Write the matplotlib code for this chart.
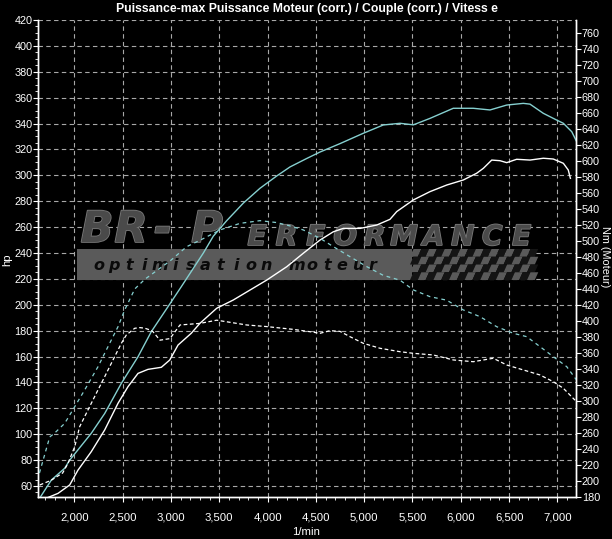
import matplotlib
matplotlib.use("Agg")
import matplotlib.pyplot as plt
import matplotlib.patheffects as pe
from matplotlib.ticker import MultipleLocator, FuncFormatter
from matplotlib.patches import Rectangle, Polygon
from matplotlib.transforms import Affine2D

# ---------------- data ----------------
title = "Puissance-max Puissance Moteur (corr.) / Couple (corr.) / Vitess e"
x_label = "1/min"
left_label = "hp"
right_label = "Nm (Moteur)"
logo_big = "BR-P"
logo_small = "ERFORMANCE"
logo_band = "optimisation moteur"

# run 1 (cyan): power (hp) and torque (Nm)
rpm_p1 = [1643, 1763, 1901, 1953, 2176, 2315, 2487, 2660, 2797, 2970, 3108, 3336, 3439,
          3578, 3749, 3922, 4095, 4233, 4405, 4543, 4750, 4991, 5198, 5371, 5509, 5681,
          5922, 6129, 6302, 6475, 6647, 6716, 6854, 6992, 7061, 7148, 7199]
hp_p1 = [50.7, 64.6, 73.7, 80, 100.7, 116, 139.3, 159.9, 179.2, 198.5, 214, 240, 253,
         265, 278.5, 290, 299.5, 306.5, 313, 318, 324.5, 332.5, 338.9, 340.2, 339, 344,
         351.8, 351.8, 350.5, 354.3, 355.6, 355, 347.9, 342.7, 340.2, 333.7, 326]

rpm_t1 = [1640, 1746, 1798, 1901, 2005, 2108, 2246, 2349, 2453, 2522, 2626, 2729, 2797,
          2991, 3164, 3336, 3508, 3715, 3922, 4095, 4233, 4370, 4543, 4681, 4853, 5026,
          5198, 5371, 5509, 5681, 5854, 6026, 6199, 6371, 6544, 6682, 6820, 6957, 7096, 7199]
nm_t1 = [210, 255, 260, 272, 292.9, 313.8, 342.9, 367.9, 392.9, 413.8, 440, 452, 458,
         475, 492.9, 503, 513.8, 522, 525.4, 523, 518.8, 513.8, 503.4, 492.9, 480.4, 468,
         457, 451, 438.8, 430.4, 426, 413.8, 405.4, 392.9, 384.6, 380.4, 367.9, 355.4, 342.9, 326]

# run 2 (white): power (hp) and torque (Nm)
rpm_p2 = [1659, 1832, 1953, 2039, 2176, 2315, 2453, 2556, 2660, 2763, 2901, 2988, 3074,
          3211, 3301, 3474, 3646, 3819, 3992, 4199, 4370, 4543, 4681, 4784, 4957, 5130,
          5267, 5337, 5509, 5681, 5854, 6026, 6164, 6233, 6320, 6406, 6475, 6578, 6716,
          6854, 6957, 7061, 7112, 7134]
hp_p2 = [49, 54.3, 60.8, 72.3, 86.5, 103.3, 123.9, 136.7, 147, 150.1, 151.7, 157.3, 168.9,
         178, 185.7, 197.3, 203.7, 211.4, 219.1, 229.4, 239.8, 250, 256.4, 259, 259, 261.6,
         266, 272, 281, 287.4, 292.5, 296.4, 301.6, 305.4, 311.8, 311.3, 309.8, 312.4, 311.8,
         313.2, 312.6, 309.3, 304.1, 297.7]

rpm_t2 = [1643, 1763, 1880, 1935, 2005, 2056, 2142, 2228, 2315, 2401, 2487, 2539, 2626,
          2680, 2729, 2784, 2815, 2887, 2991, 3094, 3301, 3474, 3578, 3785, 3992, 4267,
          4440, 4543, 4646, 4750, 4853, 4991, 5164, 5371, 5509, 5716, 5922, 6129, 6336,
          6475, 6647, 6820, 6957, 7061, 7182]
nm_t2 = [195, 201, 210, 222, 242.9, 267.9, 288.8, 309.6, 330.4, 351.3, 372, 382.5, 390.9,
         391.7, 391, 388.8, 386.6, 376, 378, 395, 397, 401, 399, 395, 393, 389.5,
         386.6, 384.6, 387.9, 387, 380.4, 372.1, 365.9, 361.6, 359.6, 357.5, 351.3, 349.1, 353.4,
         345, 338.8, 332.5, 324.1, 315.9, 301]

# ---------------- style ----------------
W, H = 612, 539
CYAN = "#86d0d0"
GRID = "#a8a8a8"
FONT = ["Liberation Sans", "DejaVu Sans"]
plt.rcParams["font.family"] = FONT

fig = plt.figure(figsize=(W / 100, H / 100), dpi=100, facecolor="black")
L, R, T, B = 38.2, 576.0, 20.0, 497.0
ax = fig.add_axes([L / W, 1 - B / H, (R - L) / W, (B - T) / H])
ax.set_facecolor("black")
ax2 = ax.twinx()

ax.set_xlim(1627, 7192)
ax.set_ylim(51.5, 420)
ax2.set_ylim(180, 776.2)

# grid / ticks
ax.set_axisbelow(True)
ax.xaxis.set_major_locator(MultipleLocator(500))
ax.xaxis.set_minor_locator(MultipleLocator(100))
ax.yaxis.set_major_locator(MultipleLocator(20))
ax.yaxis.set_minor_locator(MultipleLocator(5))
ax2.yaxis.set_major_locator(MultipleLocator(20))
ax.grid(True, which="major", color=GRID, linestyle=(0, (4, 3)), linewidth=0.8)
ax.xaxis.set_major_formatter(FuncFormatter(lambda v, p: f"{int(round(v)):,}"))

for a in (ax, ax2):
    a.spines["top"].set_visible(False)
    for s in ("left", "right", "bottom"):
        a.spines[s].set_color("white")
        a.spines[s].set_linewidth(1.0)
    a.tick_params(colors="white", which="both", direction="out")
    a.tick_params(which="major", length=3.5, width=0.8, labelsize=7.8, pad=0.6)
    a.tick_params(which="minor", length=2, width=0.6)
ax.tick_params(axis="x", which="major", pad=8, labelsize=8.2)

# curves
ax.plot(rpm_p1, hp_p1, color=CYAN, lw=1.0, zorder=3)
ax.plot(rpm_p2, hp_p2, color="white", lw=1.0, zorder=3)
ax2.plot(rpm_t1, nm_t1, color=CYAN, lw=0.9, linestyle=(0, (3, 3)), zorder=3)
ax2.plot(rpm_t2, nm_t2, color="white", lw=0.9, linestyle=(0, (3, 2)), zorder=3)

# texts
fig.text(307 / W, 1 - 9 / H, title, ha="center", va="center", color="white",
         fontsize=8.8, fontweight="bold")
fig.text(306 / W, 1 - 532 / H, x_label, ha="center", va="center", color="white",
         fontsize=8.2)
fig.text(7 / W, 1 - 260 / H, left_label, ha="center", va="center", color="white",
         fontsize=8.2, rotation=90)
fig.text(605.5 / W, 1 - 257 / H, right_label, ha="center", va="center", color="white",
         fontsize=7.8, rotation=270)

# ---------------- watermark logo (pixel space) ----------------
pix = Affine2D().scale(1 / W, 1 / H) + fig.transFigure

# grey band
ax.add_artist(Rectangle((77, H - 280), 335, 31, transform=pix, fc="#5a5a5a", ec="none",
                        zorder=1, clip_on=False))
# chequered flag
cols, rows = 16, 4
cw, ch = 7.8, 31 / rows
for r in range(rows):
    for c in range(cols):
        x0 = 410 + c * cw
        ytop = H - 249 - r * ch
        shift = 0.45 * ch
        col = "#5a5a5a" if (r + c) % 2 == 0 else "#141414"
        poly = [(x0 + shift, ytop), (x0 + cw + shift, ytop),
                (x0 + cw, ytop - ch), (x0, ytop - ch)]
        ax.add_artist(Polygon(poly, closed=True, transform=pix, fc=col, ec="none",
                              zorder=1, clip_on=False))

stroke = [pe.withStroke(linewidth=1.2, foreground="#7a7a7a")]
big_centers = [97, 131, 163, 207]
for chx, cx in zip(logo_big, big_centers):
    ax.text(cx / W, 1 - 230 / H, chx, transform=fig.transFigure, ha="center", va="center",
            fontsize=31, fontweight="bold", fontstyle="italic", color="#4a4a4a",
            family="DejaVu Sans", zorder=1.2, path_effects=stroke)
for i, chx in enumerate(logo_small):
    cx = 257 + i * 29.4
    ax.text(cx / W, 1 - 237 / H, chx, transform=fig.transFigure, ha="center", va="center",
            fontsize=20, fontweight="bold", fontstyle="italic", color="#4a4a4a",
            family="DejaVu Sans", zorder=1.2, path_effects=stroke)

for i, chx in enumerate(logo_band):
    if chx == " ":
        continue
    cx = 99 + i * 15.2
    ax.text(cx / W, 1 - 266 / H, chx, transform=fig.transFigure, ha="center", va="center",
            fontsize=11.5, fontweight="bold", fontstyle="italic", color="#0a0a0a",
            family="DejaVu Sans", zorder=1.3)

fig.savefig("out.png", dpi=100, facecolor="black")
